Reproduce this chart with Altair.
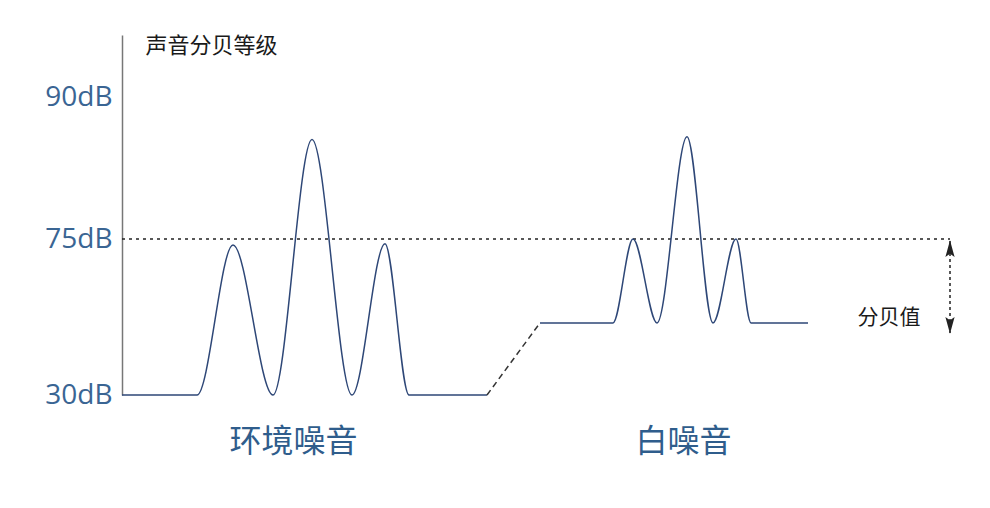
import altair as alt
import pandas as pd

# ---- values ----
y_ticks = [30, 75, 90]                      # dB labels on the level axis
categories = ["环境噪音", "白噪音"]
category_pos = [171, 561]                   # horizontal centre of each group

env_t = [0, 75, 111, 151, 190, 230, 263, 287, 365]
env_db = [30, 30, 73.3, 30, 85.5, 30, 73.6, 30, 30]

ramp_t = [365, 418]
ramp_db = [30, 50.8]

white_t = [418, 491, 511, 535, 565, 591, 614, 629, 686]
white_db = [50.8, 50.8, 75, 50.8, 85.8, 50.8, 75, 50.8, 50.8]

limit_t = [0, 828]
limit_db = 75

arrow_t = 828
arrow_db = [74.4, 47.9]
arrow_head_db = [72.2, 50.1]
note_text = "分贝值"
note_t = 767
note_db = 52.2

# ---- data tables ----
env_df = pd.DataFrame({"t": env_t, "db": env_db})
ramp_df = pd.DataFrame({"t": ramp_t, "db": ramp_db})
white_df = pd.DataFrame({"t": white_t, "db": white_db})
limit_df = pd.DataFrame({"t": [limit_t[0]], "t2": [limit_t[1]], "db": [limit_db]})
arrow_df = pd.DataFrame({"t": [arrow_t], "db": [arrow_db[0]], "db2": [arrow_db[1]]})
head_df = pd.DataFrame({"t": [arrow_t, arrow_t], "db": arrow_head_db,
                        "dir": ["up", "down"]})
note_df = pd.DataFrame({"t": [note_t], "db": [note_db], "label": [note_text]})

label_expr = " : ".join(
    f"datum.value == {p} ? '{c}'" for p, c in zip(category_pos[:-1], categories[:-1])
) + f" : '{categories[-1]}'"

xscale = alt.Scale(domain=[0, 840], nice=False, zero=False)
yscale = alt.Scale(domain=[30, 75, 90, 96.5], range=[360, 204, 62, 0],
                   nice=False, zero=False)

x_enc = alt.X("t:Q", scale=xscale,
              axis=alt.Axis(values=category_pos, labelExpr=label_expr, title=None,
                            domain=False, ticks=False, grid=False,
                            labelFontSize=32, labelColor="#2f5d8c",
                            labelFont="Noto Sans CJK SC", labelPadding=31,
                            labelBaseline="top"))
y_enc = alt.Y("db:Q", scale=yscale,
              axis=alt.Axis(values=y_ticks, labelExpr="datum.value + 'dB'",
                            title="声音分贝等级", titleAngle=0, titleAlign="left",
                            titleBaseline="middle", titleX=23, titleY=10,
                            titleFontSize=22, titleFontWeight="normal",
                            titleColor="#1a1a1a", titleFont="Noto Sans CJK SC",
                            ticks=False, grid=False, domainColor="#777777",
                            domainWidth=1.5, labelFontSize=28,
                            labelColor="#3a6593", labelFont="Open Sans",
                            labelPadding=10))

line_color = "#2e4777"

env = alt.Chart(env_df).mark_line(interpolate="monotone", color=line_color,
                                  strokeWidth=1.5).encode(x=x_enc, y=y_enc)
white = alt.Chart(white_df).mark_line(interpolate="monotone", color=line_color,
                                      strokeWidth=1.5).encode(x=x_enc, y=y_enc)
ramp = alt.Chart(ramp_df).mark_line(color="#333333", strokeWidth=1.5,
                                    strokeDash=[6, 4]).encode(x=x_enc, y=y_enc)
limit = alt.Chart(limit_df).mark_rule(color="#222222", strokeWidth=1.5,
                                      strokeDash=[3, 4]).encode(
    x=x_enc, x2="t2:Q", y=y_enc)
arrow = alt.Chart(arrow_df).mark_rule(color="#222222", strokeWidth=1.5,
                                      strokeDash=[3, 3]).encode(
    x=x_enc, y=y_enc, y2="db2:Q")
head_up = alt.Chart(head_df[head_df["dir"] == "up"]).mark_point(
    shape="M0,-1L0.55,1L0,0.6L-0.55,1Z", filled=True, color="#222222",
    size=280, opacity=1).encode(x=x_enc, y=y_enc)
head_down = alt.Chart(head_df[head_df["dir"] == "down"]).mark_point(
    shape="M0,1L0.55,-1L0,-0.6L-0.55,-1Z", filled=True, color="#222222",
    size=280, opacity=1).encode(x=x_enc, y=y_enc)
note = alt.Chart(note_df).mark_text(fontSize=21, color="#1a1a1a",
                                    font="Noto Sans CJK SC").encode(
    x=x_enc, y=y_enc, text="label:N")

chart = alt.layer(limit, env, ramp, white, arrow, head_up, head_down, note).properties(
    width=840, height=360,
    autosize=alt.AutoSizeParams(type="none"),
    padding={"left": 114, "top": 27, "right": 10, "bottom": 90},
    background="white",
).configure_view(stroke=None)

chart.save("out.html", embed_options={"renderer": "svg", "actions": False})
